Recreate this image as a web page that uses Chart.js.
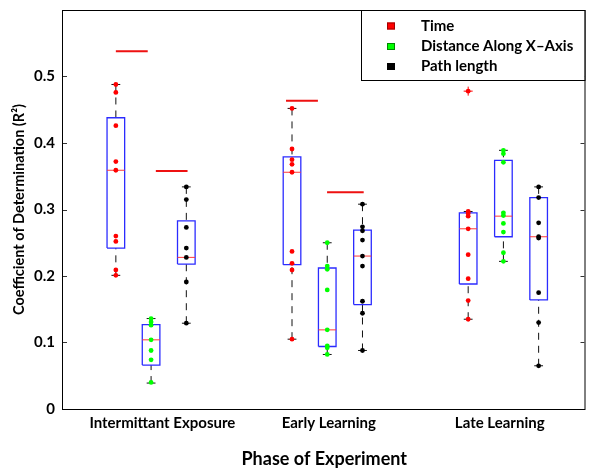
<!DOCTYPE html>
<html><head><meta charset="utf-8">
<script src="https://cdn.jsdelivr.net/npm/chart.js@4"></script>
<style>html,body{margin:0;padding:0;background:#fff;}</style>
</head><body>
<canvas id="c" width="591" height="470"></canvas>
<script>
// ---------- data ----------
const categories = ['Intermittant Exposure', 'Early Learning', 'Late Learning'];
const seriesNames = ['Time', 'Distance Along X\u2013Axis', 'Path length'];
const yTicks = [0, 0.1, 0.2, 0.3, 0.4, 0.5];
const yTickLabels = ['0', '0.1', '0.2', '0.3', '0.4', '0.5'];

// individual subject values per phase
const timePoints = [
  [0.488, 0.476, 0.426, 0.372, 0.359, 0.260, 0.252, 0.209, 0.201],
  [0.452, 0.391, 0.375, 0.368, 0.356, 0.237, 0.219, 0.209, 0.105],
  [0.478, 0.297, 0.294, 0.290, 0.271, 0.232, 0.196, 0.163, 0.135]
];
const distancePoints = [
  [0.136, 0.131, 0.126, 0.104, 0.088, 0.074, 0.040],
  [0.250, 0.215, 0.210, 0.179, 0.119, 0.095, 0.092, 0.082],
  [0.389, 0.384, 0.371, 0.295, 0.291, 0.279, 0.266, 0.235, 0.222]
];
const pathPoints = [
  [0.334, 0.315, 0.273, 0.242, 0.228, 0.191, 0.129],
  [0.308, 0.274, 0.268, 0.254, 0.230, 0.215, 0.162, 0.144, 0.088],
  [0.334, 0.318, 0.280, 0.259, 0.257, 0.175, 0.130, 0.065]
];

// box statistics per phase
const timeQ1 = [0.242, 0.217, 0.188];
const timeMedian = [0.359, 0.356, 0.271];
const timeQ3 = [0.438, 0.379, 0.295];
const timeLow = [0.201, 0.105, 0.135];
const timeHigh = [0.488, 0.452, 0.297];
const timeOutliers = [[], [], [0.478]];

const distanceQ1 = [0.066, 0.094, 0.259];
const distanceMedian = [0.104, 0.119, 0.290];
const distanceQ3 = [0.127, 0.212, 0.374];
const distanceLow = [0.039, 0.082, 0.222];
const distanceHigh = [0.136, 0.250, 0.389];
const distanceOutliers = [[], [], []];

const pathQ1 = [0.218, 0.157, 0.164];
const pathMedian = [0.228, 0.230, 0.259];
const pathQ3 = [0.283, 0.269, 0.318];
const pathLow = [0.129, 0.088, 0.065];
const pathHigh = [0.334, 0.308, 0.334];
const pathOutliers = [[], [], []];

// red reference lines (value, from, to on the phase axis)
const refLineValues = [0.538, 0.358, 0.4635, 0.326];
const refLineFrom = [0.80, 1.027, 1.766, 1.999];
const refLineTo = [0.981, 1.207, 1.947, 2.207];

// ---------- styling / layout constants ----------
const seriesColors = ['#ff0000', '#00ff00', '#000000'];
const legendEdge = ['#a00000', '#008800', '#000000'];
const labelShift = [0.064, 0.009, -0.021];
const OFF = 0.2, HW = 0.05, CAP = 0.025;
const FONT = 'Lato';

const series = [
  {pts: timePoints, q1: timeQ1, med: timeMedian, q3: timeQ3, lo: timeLow, hi: timeHigh, out: timeOutliers},
  {pts: distancePoints, q1: distanceQ1, med: distanceMedian, q3: distanceQ3, lo: distanceLow, hi: distanceHigh, out: distanceOutliers},
  {pts: pathPoints, q1: pathQ1, med: pathMedian, q3: pathQ3, lo: pathLow, hi: pathHigh, out: pathOutliers}
];

const boxData = [], whiskerData = [], capData = [], medData = [], outData = [];
const pointSets = [[], [], []];
series.forEach((s, si) => {
  categories.forEach((cat, gi) => {
    const c = gi + 1 + (si - 1) * OFF;
    boxData.push({x: c - HW, y: s.q1[gi]}, {x: c + HW, y: s.q1[gi]}, {x: c + HW, y: s.q3[gi]},
                 {x: c - HW, y: s.q3[gi]}, {x: c - HW, y: s.q1[gi]}, {x: c, y: null});
    whiskerData.push({x: c, y: s.hi[gi]}, {x: c, y: s.q3[gi]}, {x: c, y: null},
                     {x: c, y: s.lo[gi]}, {x: c, y: s.q1[gi]}, {x: c, y: null});
    capData.push({x: c - CAP, y: s.hi[gi]}, {x: c + CAP, y: s.hi[gi]}, {x: c, y: null},
                 {x: c - CAP, y: s.lo[gi]}, {x: c + CAP, y: s.lo[gi]}, {x: c, y: null});
    medData.push({x: c - HW, y: s.med[gi]}, {x: c + HW, y: s.med[gi]}, {x: c, y: null});
    s.pts[gi].forEach(v => pointSets[si].push({x: c, y: v}));
    s.out[gi].forEach(v => outData.push({x: c, y: v}));
  });
});
const refData = [];
refLineValues.forEach((v, i) => {
  refData.push({x: refLineFrom[i], y: v}, {x: refLineTo[i], y: v}, {x: refLineTo[i], y: null});
});

const segDS = (data, color, width, order, dash) => ({
  type: 'scatter', data, showLine: true, spanGaps: false, borderColor: color, borderWidth: width,
  borderDash: dash || [], pointRadius: 0, pointHoverRadius: 0, fill: false, order, tension: 0
});

const datasets = [
  segDS(whiskerData, '#111111', 1, 6, [7, 6]),
  segDS(capData, '#111111', 1, 5),
  segDS(boxData, '#2b2bff', 1.3, 4),
  segDS(medData, '#ff3a3a', 1, 3),
  segDS(refData, '#ee1111', 2, 3),
  ...pointSets.map((d, i) => ({type: 'scatter', label: seriesNames[i], data: d, showLine: false,
      pointRadius: 2.4, pointBackgroundColor: seriesColors[i], pointBorderWidth: 0, order: 1})),
  {type: 'scatter', data: outData, showLine: false, pointStyle: 'cross', pointRadius: 4.5,
   pointBorderColor: '#ff0000', pointBorderWidth: 1, order: 0}
];

const framePlugin = {
  id: 'frame',
  afterDraw(chart) {
    const ctx = chart.ctx, a = chart.chartArea, ys = chart.scales.y;
    ctx.save();
    ctx.strokeStyle = '#000'; ctx.lineWidth = 1;
    ctx.strokeRect(a.left - 0.5, a.top + 0.5, a.right - a.left, a.bottom - a.top);
    ctx.strokeStyle = '#333';
    yTicks.forEach(v => {
      if (v === 0) return;
      const y = Math.round(ys.getPixelForValue(v)) + 0.5;
      ctx.beginPath();
      ctx.moveTo(a.left, y); ctx.lineTo(a.left + 4, y);
      ctx.moveTo(a.right - 1, y); ctx.lineTo(a.right - 5, y);
      ctx.stroke();
    });
    // legend
    const L = 361, T = a.top, R = a.right - 1, B = 80;
    ctx.fillStyle = '#fff';
    ctx.fillRect(L, T, R - L, B - T);
    ctx.strokeStyle = '#000'; ctx.lineWidth = 1;
    ctx.strokeRect(L + 0.5, T + 0.5, R - L, B - T);
    const rows = [26, 46.5, 66.5];
    ctx.font = 'bold 15px ' + FONT;
    ctx.textBaseline = 'middle'; ctx.textAlign = 'left';
    seriesNames.forEach((n, i) => {
      ctx.fillStyle = seriesColors[i];
      ctx.fillRect(387, rows[i] - 3.5, 8, 7);
      ctx.strokeStyle = legendEdge[i];
      ctx.strokeRect(387.5, rows[i] - 3, 7, 6);
      ctx.fillStyle = '#000';
      ctx.fillText(n, 421, rows[i]);
    });
    ctx.restore();
  }
};

new Chart(document.getElementById('c'), {
  type: 'scatter',
  data: {datasets},
  options: {
    responsive: false, animation: false, devicePixelRatio: 1,
    layout: {padding: {top: 10, right: 2, left: 0, bottom: 0}},
    plugins: {legend: {display: false}, tooltip: {enabled: false}},
    scales: {
      x: {
        type: 'linear', min: 0.5, max: 3.466,
        afterBuildTicks: s => { s.ticks = categories.map((c, i) => ({value: i + 1 + labelShift[i]})); },
        afterFit: s => { s.height = 61; s.paddingLeft = 0; s.paddingRight = 0; },
        ticks: {callback: (v, i) => categories[i] || '', color: '#000',
                font: {family: FONT, size: 15, weight: 'bold'}, padding: 5, maxRotation: 0, autoSkip: false},
        grid: {display: false, drawTicks: false},
        border: {display: false},
        title: {display: true, text: 'Phase of Experiment', color: '#000',
                font: {family: FONT, size: 18, weight: 'bold'}, padding: {top: 0, bottom: 0}}
      },
      y: {
        type: 'linear', min: 0, max: 0.6,
        afterBuildTicks: s => { s.ticks = yTicks.map(v => ({value: v})); },
        afterFit: s => { s.width = 63; s.paddingTop = 0; s.paddingBottom = 0; },
        ticks: {callback: v => { const i = yTicks.findIndex(t => Math.abs(t - v) < 1e-6); return i >= 0 ? yTickLabels[i] : ''; },
                color: '#000', font: {family: FONT, size: 15, weight: 'bold'}, padding: 8},
        grid: {display: false, drawTicks: false},
        border: {display: false},
        title: {display: true, text: 'Coefficient of Determination (R\u00b2)', color: '#000',
                font: {family: FONT, size: 14.5, weight: 'bold'}, padding: {top: 11, bottom: 0}}
      }
    }
  },
  plugins: [framePlugin]
});
</script>
</body></html>
